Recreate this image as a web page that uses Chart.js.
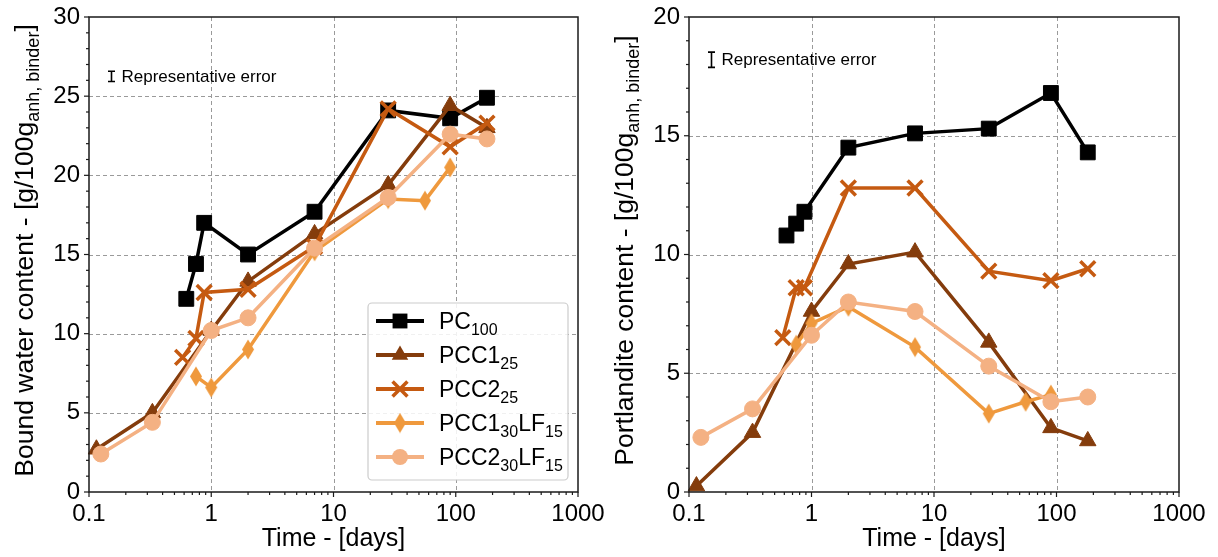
<!DOCTYPE html>
<html>
<head>
<meta charset="utf-8">
<script src="https://cdn.jsdelivr.net/npm/chart.js@4/dist/chart.umd.min.js"></script>
<style>
  html, body { margin: 0; padding: 0; background: #fff; }
  body { width: 1218px; height: 557px; position: relative; overflow: hidden; }
  canvas { position: absolute; top: 0; }
  #c1 { left: 0; }
  #c2 { left: 609px; }
</style>
</head>
<body>
<canvas id="c1" width="609" height="557"></canvas>
<canvas id="c2" width="609" height="557"></canvas>
<script>
// ---------------- DATA ----------------
const seriesNames = ['PC100', 'PCC1_25', 'PCC2_25', 'PCC1_30LF15', 'PCC2_30LF15'];
const legendParts = [
  [['PC', 0], ['100', 1]],
  [['PCC1', 0], ['25', 1]],
  [['PCC2', 0], ['25', 1]],
  [['PCC1', 0], ['30', 1], ['LF', 0], ['15', 1]],
  [['PCC2', 0], ['30', 1], ['LF', 0], ['15', 1]]
];

// Time (days) for each series
const tPC100      = [0.625, 0.75, 0.875, 2, 7, 28, 90, 180];
const tPCC1_25    = [0.115, 0.33, 1, 2, 7, 28, 90, 180];
const tPCC2_25    = [0.583, 0.75, 0.875, 2, 7, 28, 90, 180];
const tPCC1_30LF  = [0.75, 1, 2, 7, 28, 56, 90];
const tPCC2_30LF  = [0.125, 0.33, 1, 2, 7, 28, 90, 180];

// Bound water content
const bwPC100     = [12.2, 14.4, 17.0, 15.0, 17.7, 24.1, 23.6, 24.9];
const bwPCC1_25   = [2.7, 5.0, 10.2, 13.3, 16.3, 19.4, 24.4, 23.0];
const bwPCC2_25   = [8.5, 9.7, 12.6, 12.8, 15.5, 24.2, 21.8, 23.3];
const bwPCC1_30LF = [7.3, 6.6, 9.0, 15.2, 18.5, 18.4, 20.5];
const bwPCC2_30LF = [2.4, 4.4, 10.2, 11.0, 15.4, 18.6, 22.6, 22.3];

// Portlandite content
const chPC100     = [10.8, 11.3, 11.8, 14.5, 15.1, 15.3, 16.8, 14.3];
const chPCC1_25   = [0.25, 2.5, 7.6, 9.6, 10.1, 6.3, 2.7, 2.15];
const chPCC2_25   = [6.5, 8.6, 8.6, 12.8, 12.8, 9.3, 8.9, 9.4];
const chPCC1_30LF = [6.2, 7.1, 7.8, 6.1, 3.3, 3.8, 4.1];
const chPCC2_30LF = [2.3, 3.5, 6.6, 8.0, 7.6, 5.3, 3.8, 4.0];

// Axis ticks
const xMajorTicks = [0.1, 1, 10, 100, 1000];
const xTickLabels = ['0.1', '1', '10', '100', '1000'];
const yTicksLeft  = [0, 5, 10, 15, 20, 25, 30];
const yTicksRight = [0, 5, 10, 15, 20];

// Representative error (value, half-width) and position
const errLeft  = { x: 0.15, y: 26.25, half: 0.32 };
const errRight = { x: 0.15, y: 18.2, half: 0.32 };

// ---------------- STYLE ----------------
const FONT = "'Liberation Sans', Arial, Helvetica, sans-serif";
const colors = ['#000000', '#843C0C', '#C55A11', '#EF993D', '#F4B183'];

function makeDiamond(color) {
  const w = 14, h = 21;
  const c = document.createElement('canvas');
  c.width = w; c.height = h;
  const g = c.getContext('2d');
  g.fillStyle = color;
  g.beginPath();
  g.moveTo(w / 2, 0.5); g.lineTo(w - 1, h / 2); g.lineTo(w / 2, h - 0.5); g.lineTo(1, h / 2);
  g.closePath(); g.fill();
  return c;
}
const diamondImg = makeDiamond(colors[3]);

const markerStyles = [
  { pointStyle: 'rect', radius: 10.5, borderWidth: 1 },
  { pointStyle: 'triangle', radius: 9.5, borderWidth: 1 },
  { pointStyle: 'crossRot', radius: 10.5, borderWidth: 3.5 },
  { pointStyle: diamondImg, radius: 10, borderWidth: 1 },
  { pointStyle: 'circle', radius: 8, borderWidth: 1 }
];

function buildDatasets(times, values) {
  return values.map((vals, i) => ({
    label: seriesNames[i],
    data: vals.map((v, k) => ({ x: times[i][k], y: v })),
    borderColor: colors[i],
    backgroundColor: colors[i],
    pointBackgroundColor: colors[i],
    pointBorderColor: colors[i],
    borderWidth: 3.5,
    pointStyle: markerStyles[i].pointStyle,
    pointRadius: markerStyles[i].radius,
    pointBorderWidth: markerStyles[i].borderWidth,
    pointHoverRadius: markerStyles[i].radius,
    tension: 0,
    order: 10 - i,
    clip: 14
  }));
}

function isDecade(v) {
  const l = Math.log10(v);
  return Math.abs(l - Math.round(l)) < 1e-9;
}

function drawRich(ctx, parts, x, y, size, subSize, subDrop) {
  let cx = x;
  parts.forEach(([t, sub]) => {
    ctx.font = (sub ? subSize : size) + 'px ' + FONT;
    ctx.fillText(t, cx, y + (sub ? subDrop : 0));
    cx += ctx.measureText(t).width;
  });
  return cx - x;
}
function measureRich(ctx, parts, size, subSize) {
  let w = 0;
  parts.forEach(([t, sub]) => {
    ctx.font = (sub ? subSize : size) + 'px ' + FONT;
    w += ctx.measureText(t).width;
  });
  return w;
}

function drawMarker(ctx, i, x, y) {
  const col = colors[i];
  ctx.save();
  ctx.fillStyle = col; ctx.strokeStyle = col;
  if (i === 0) {
    const s = markerStyles[0].radius * Math.SQRT1_2;
    ctx.fillRect(x - s, y - s, 2 * s, 2 * s);
  } else if (i === 1) {
    const r = markerStyles[1].radius;
    ctx.beginPath();
    for (let k = 0; k < 3; k++) {
      const a = -Math.PI / 2 + k * 2 * Math.PI / 3;
      const px = x + Math.cos(a) * r, py = y + Math.sin(a) * r;
      k === 0 ? ctx.moveTo(px, py) : ctx.lineTo(px, py);
    }
    ctx.closePath(); ctx.fill();
  } else if (i === 2) {
    const r = markerStyles[2].radius * Math.SQRT1_2;
    ctx.lineWidth = 3.5;
    ctx.beginPath();
    ctx.moveTo(x - r, y - r); ctx.lineTo(x + r, y + r);
    ctx.moveTo(x + r, y - r); ctx.lineTo(x - r, y + r);
    ctx.stroke();
  } else if (i === 3) {
    ctx.drawImage(diamondImg, x - diamondImg.width / 2, y - diamondImg.height / 2);
  } else {
    ctx.beginPath(); ctx.arc(x, y, markerStyles[4].radius, 0, Math.PI * 2); ctx.fill();
  }
  ctx.restore();
}

function axesPlugin(opts) {
  return {
    id: 'axesDecor',
    beforeDatasetsDraw(chart) {
      const ctx = chart.ctx, a = chart.chartArea;
      const xs = chart.scales.x, ys = chart.scales.y;
      ctx.save();
      ctx.strokeStyle = '#9a9a9a';
      ctx.lineWidth = 1;
      ctx.setLineDash([4, 3]);
      xMajorTicks.forEach(v => {
        const px = Math.round(xs.getPixelForValue(v)) + 0.5;
        if (px <= a.left + 1 || px >= a.right - 1) return;
        ctx.beginPath(); ctx.moveTo(px, a.top); ctx.lineTo(px, a.bottom); ctx.stroke();
      });
      opts.yTicks.forEach(v => {
        const py = Math.round(ys.getPixelForValue(v)) + 0.5;
        if (py <= a.top + 1 || py >= a.bottom - 1) return;
        ctx.beginPath(); ctx.moveTo(a.left, py); ctx.lineTo(a.right, py); ctx.stroke();
      });
      ctx.restore();
    },
    afterDatasetsDraw(chart) {
      const ctx = chart.ctx, a = chart.chartArea;
      const xs = chart.scales.x, ys = chart.scales.y;
      ctx.save();
      ctx.strokeStyle = '#1a1a1a';
      ctx.lineWidth = 1.5;
      ctx.setLineDash([]);
      ctx.strokeRect(a.left, a.top, a.right - a.left, a.bottom - a.top);
      ctx.lineWidth = 1.2;
      xs.ticks.forEach(t => {
        const px = xs.getPixelForValue(t.value);
        const len = isDecade(t.value) ? 5 : 3;
        ctx.beginPath(); ctx.moveTo(px, a.bottom); ctx.lineTo(px, a.bottom + len); ctx.stroke();
      });
      ys.ticks.forEach(t => {
        const py = ys.getPixelForValue(t.value);
        const len = (Math.round(t.value) % 5 === 0) ? 5 : 3;
        ctx.beginPath(); ctx.moveTo(a.left, py); ctx.lineTo(a.left - len, py); ctx.stroke();
      });
      ctx.restore();
    },
    afterDraw(chart) {
      const ctx = chart.ctx, a = chart.chartArea;
      const xs = chart.scales.x, ys = chart.scales.y;
      ctx.save();
      ctx.fillStyle = '#000';
      ctx.font = '25px ' + FONT;
      ctx.textAlign = 'center';
      ctx.textBaseline = 'alphabetic';
      ctx.fillText('Time - [days]', (a.left + a.right) / 2, 546);
      ctx.save();
      ctx.translate(a.left - opts.yTitleDist, (a.top + a.bottom) / 2 - 4);
      ctx.rotate(-Math.PI / 2);
      ctx.textAlign = 'left';
      const parts = [[opts.yTitle, 0], ['anh, binder', 1], [']', 0]];
      const w = measureRich(ctx, parts, 26.5, 18);
      drawRich(ctx, parts, -w / 2, 0, 26.5, 18, 6);
      ctx.restore();
      const e = opts.err;
      const ex = Math.round(xs.getPixelForValue(e.x)) + 0.5;
      const y1 = ys.getPixelForValue(e.y - e.half), y2 = ys.getPixelForValue(e.y + e.half);
      ctx.strokeStyle = '#000'; ctx.lineWidth = 1.6;
      ctx.beginPath();
      ctx.moveTo(ex, y1); ctx.lineTo(ex, y2);
      ctx.moveTo(ex - 3.5, y1); ctx.lineTo(ex + 3.5, y1);
      ctx.moveTo(ex - 3.5, y2); ctx.lineTo(ex + 3.5, y2);
      ctx.stroke();
      ctx.font = '17px ' + FONT;
      ctx.textAlign = 'left';
      ctx.textBaseline = 'middle';
      ctx.fillText('Representative error', ex + 10, ys.getPixelForValue(e.y) + 1);
      if (opts.legend) {
        const L = opts.legend;
        ctx.fillStyle = 'rgba(255,255,255,0.85)';
        ctx.strokeStyle = '#cccccc';
        ctx.lineWidth = 1.2;
        ctx.beginPath();
        ctx.roundRect(L.x, L.y, L.w, L.h, 4);
        ctx.fill(); ctx.stroke();
        for (let i = 0; i < 5; i++) {
          const ry = L.y + 18 + i * 34;
          ctx.strokeStyle = colors[i];
          ctx.lineWidth = 4;
          ctx.beginPath(); ctx.moveTo(L.x + 8, ry); ctx.lineTo(L.x + 56, ry); ctx.stroke();
          drawMarker(ctx, i, L.x + 32, ry);
          ctx.fillStyle = '#000';
          ctx.textBaseline = 'alphabetic';
          ctx.textAlign = 'left';
          drawRich(ctx, legendParts[i], L.x + 71, ry + 8, 23, 16, 6);
        }
      }
      ctx.restore();
    }
  };
}

function makeChart(id, times, values, yMax, yTicks, opts) {
  const cfg = {
    type: 'line',
    data: { datasets: buildDatasets(times, values) },
    options: {
      responsive: false,
      devicePixelRatio: 1,
      animation: false,
      events: [],
      layout: { padding: opts.padding },
      plugins: { legend: { display: false }, tooltip: { enabled: false } },
      scales: {
        x: {
          type: 'logarithmic',
          min: 0.1, max: 1000,
          grid: { display: false, drawTicks: false },
          border: { display: false },
          afterBuildTicks(s) {
            const arr = [];
            for (let d = -1; d <= 2; d++) {
              for (let m = 1; m <= 9; m++) arr.push({ value: m * Math.pow(10, d) });
            }
            arr.push({ value: 1000 });
            s.ticks = arr;
          },
          afterFit(s) { s.height = opts.xHeight; s.paddingLeft = 0; s.paddingRight = 0; },
          ticks: {
            autoSkip: false, maxRotation: 0, minRotation: 0,
            padding: 8,
            color: '#000',
            font: { family: FONT, size: 24 },
            callback(v) {
              const idx = xMajorTicks.findIndex(m => Math.abs(Math.log10(m) - Math.log10(v)) < 1e-9);
              return idx >= 0 ? xTickLabels[idx] : '';
            }
          }
        },
        y: {
          type: 'linear',
          min: 0, max: yMax,
          grid: { display: false, drawTicks: false },
          border: { display: false },
          afterFit(s) { s.width = opts.yWidth; s.paddingTop = 0; s.paddingBottom = 0; },
          ticks: {
            stepSize: 1, autoSkip: false,
            padding: 9,
            color: '#000',
            font: { family: FONT, size: 24 },
            callback(v) { return yTicks.includes(v) ? String(v) : ''; }
          }
        }
      }
    },
    plugins: [axesPlugin(Object.assign({ yTicks }, opts))]
  };
  return new Chart(document.getElementById(id), cfg);
}

const times = [tPC100, tPCC1_25, tPCC2_25, tPCC1_30LF, tPCC2_30LF];

makeChart('c1', times, [bwPC100, bwPCC1_25, bwPCC2_25, bwPCC1_30LF, bwPCC2_30LF], 30, yTicksLeft, {
  padding: { left: 0, top: 17, right: 31, bottom: 0 },
  yWidth: 89, xHeight: 65,
  yTitle: 'Bound water content - [g/100g',
  yTitleDist: 56,
  err: errLeft,
  legend: { x: 368, y: 303, w: 200, h: 177 }
});

makeChart('c2', times, [chPC100, chPCC1_25, chPCC2_25, chPCC1_30LF, chPCC2_30LF], 20, yTicksRight, {
  padding: { left: 0, top: 17, right: 39, bottom: 0 },
  yWidth: 80, xHeight: 65,
  yTitle: 'Portlandite content - [g/100g',
  yTitleDist: 56,
  err: errRight,
  legend: null
});
</script>
</body>
</html>
